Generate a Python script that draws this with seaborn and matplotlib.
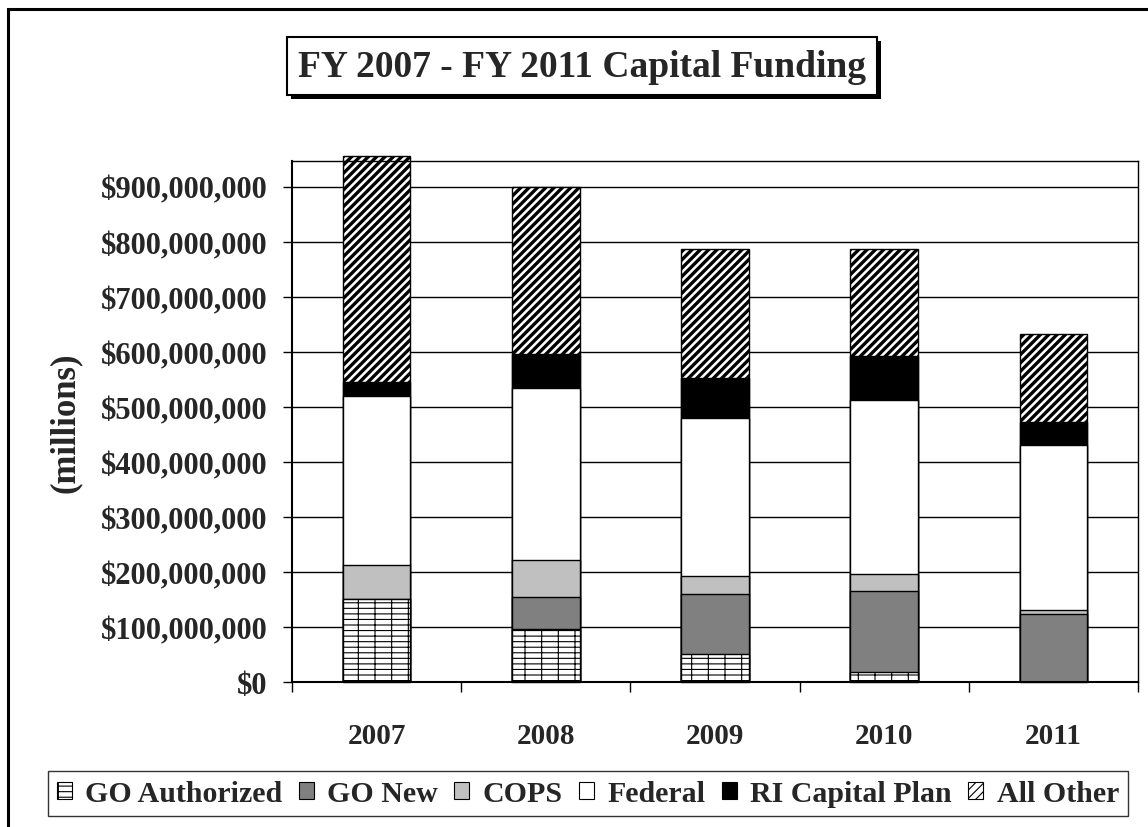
import numpy as np
import pandas as pd
import matplotlib
matplotlib.use("Agg")
import matplotlib.pyplot as plt
import matplotlib.patheffects as pe
from matplotlib.patches import Patch, Rectangle
from matplotlib.ticker import FuncFormatter, FixedLocator
import seaborn as sns

# values in millions of dollars
years = ['2007', '2008', '2009', '2010', '2011']
go_authorized = [150, 97, 51, 19, 0]
go_new = [0, 58, 109, 146, 123]
cops = [63, 67, 32, 31, 7]
federal = [307, 313, 288, 316, 300]
ri_capital = [25, 62, 72, 80, 42]
all_other = [412, 302, 236, 196, 160]

series = ['GO Authorized', 'GO New', 'COPS', 'Federal', 'RI Capital Plan', 'All Other']
colors = ['white', '#808080', '#C0C0C0', 'white', 'black', 'white']
hatches = ['---|', '', '', '', '', '////']
hatch_lw = [0.8, 1, 1, 1, 1, 2.4]

sns.set_style('white')
plt.rcParams['font.family'] = ['Liberation Serif', 'DejaVu Serif']
plt.rcParams['font.weight'] = 'bold'
plt.rcParams['hatch.color'] = 'black'
plt.rcParams['hatch.linewidth'] = 0.8


def thick_hatch(artist, lw):
    # draw this artist with its own hatch line width
    orig = artist.draw

    def draw(renderer, *args, **kwargs):
        with plt.rc_context({'hatch.linewidth': lw}):
            return orig(renderer, *args, **kwargs)
    artist.draw = draw


df = pd.DataFrame({'year': years, 'GO Authorized': go_authorized, 'GO New': go_new,
                   'COPS': cops, 'Federal': federal, 'RI Capital Plan': ri_capital,
                   'All Other': all_other})
cum = df[series].cumsum(axis=1) * 1e6

fig = plt.figure(figsize=(11.48, 8.28), dpi=100)
ax = fig.add_axes([0.2544, 0.1751, 0.7369, 0.6292])
ax.set_axisbelow(True)

# draw cumulative totals from the top down so each layer covers the one below
for i in range(len(series) - 1, -1, -1):
    n_before = len(ax.patches)
    sns.barplot(x=df['year'], y=cum[series[i]], color=colors[i], saturation=1,
                width=0.4, edgecolor='black', linewidth=1, errorbar=None, ax=ax)
    for p in ax.patches[n_before:]:
        p.set_hatch(hatches[i])
        if hasattr(p, 'set_hatch_linewidth'):
            p.set_hatch_linewidth(hatch_lw[i])
        thick_hatch(p, hatch_lw[i])
        if series[i] == 'All Other':
            p.set_clip_on(False)

ax.set_ylim(0, 947e6)
ax.set_xlim(-0.5, 4.5)
ax.yaxis.set_major_locator(FixedLocator(np.arange(0, 901e6, 100e6)))
ax.yaxis.set_major_formatter(FuncFormatter(lambda v, p: '${:,.0f}'.format(v)))
ax.grid(axis='y', color='black', linewidth=1)
for s in ax.spines.values():
    s.set_color('black')
    s.set_linewidth(1)
ax.spines['left'].set_linewidth(1.5)
ax.spines['bottom'].set_linewidth(1.5)

ax.tick_params(axis='y', which='major', length=6.5, width=1, direction='out',
               pad=11, labelsize=22, color='black', left=True)
ax.tick_params(axis='x', which='major', length=0, pad=29, labelsize=21)
ax.xaxis.set_minor_locator(FixedLocator(np.arange(-0.5, 5, 1)))
ax.tick_params(axis='x', which='minor', length=7, width=1, direction='out',
               color='black', bottom=True)
for lab in ax.get_xticklabels() + ax.get_yticklabels():
    lab.set_fontweight('bold')

ax.set_xlabel('')
ax.set_ylabel('(millions)', fontsize=25, fontweight='bold')
ax.yaxis.set_label_coords(-0.248, 0.5)

title = fig.text(0.507, 0.919, 'FY 2007 - FY 2011 Capital Funding', ha='center',
                 va='center', fontsize=27, fontweight='bold',
                 bbox=dict(boxstyle='square,pad=0.3', facecolor='white',
                           edgecolor='black', linewidth=1.5))
title.get_bbox_patch().set_path_effects(
    [pe.SimplePatchShadow(offset=(3, -3), shadow_rgbFace='black', alpha=1), pe.Normal()])

handles = [Patch(facecolor=colors[i], edgecolor='black', hatch=hatches[i], linewidth=0.8)
           for i in range(len(series))]
leg = fig.legend(handles, series, loc='center', bbox_to_anchor=(0.512, 0.040), ncol=6,
                 frameon=True, fancybox=False, shadow=False, fontsize=21.5,
                 handlelength=0.5, handleheight=0.5, handletextpad=0.45,
                 columnspacing=0.55, borderpad=0.3, borderaxespad=0)
leg.get_frame().set_edgecolor('black')
leg.get_frame().set_linewidth(1)
for t in leg.get_texts():
    t.set_fontweight('bold')

fig.patches.append(Rectangle((8 / 1148, -0.1), 1.2, 1.1 - 10 / 828,
                             transform=fig.transFigure, fill=False,
                             edgecolor='black', linewidth=2.2))

fig.savefig('out.png', dpi=100)
